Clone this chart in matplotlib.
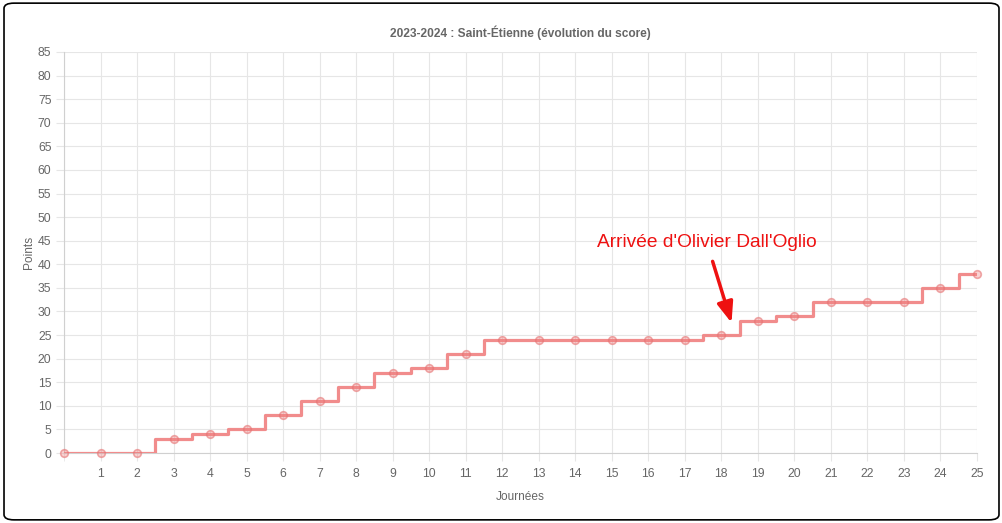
import matplotlib
matplotlib.use("Agg")
import matplotlib.pyplot as plt
from matplotlib.patches import FancyBboxPatch
import matplotlib.patheffects as pe

journees = list(range(0, 26))
points = [0, 0, 0, 3, 4, 5, 8, 11, 14, 17, 18, 21, 24, 24, 24, 24, 24, 24, 25, 28, 29, 32, 32, 32, 35, 38]
x_ticks = list(range(1, 26))
y_ticks = list(range(0, 90, 5))
title = "2023-2024 : Saint-Étienne (évolution du score)"
annot_text = "Arrivée d'Olivier Dall'Oglio"

plt.rcParams['font.family'] = ['Liberation Sans', 'DejaVu Sans']

fig = plt.figure(figsize=(10.03, 5.23), dpi=100)
ax = fig.add_axes([0.0638, 0.1338, 0.9102, 0.7668])

grid_c = '#e6e6e6'
ax.plot(journees, points, drawstyle='steps-mid', color='#f08080', lw=2.3, alpha=0.9, zorder=3)
ax.plot(journees, points, 'o', ms=5.5, mfc=(0.94, 0.5, 0.5, 0.35), mec=(0.9, 0.45, 0.45, 0.6), mew=1.2, zorder=4, clip_on=False)

ax.set_xlim(0, 25)
ax.set_ylim(0, 85)
ax.set_xticks(x_ticks)
ax.set_yticks(y_ticks)
ax.set_xticks([0], minor=True)
ax.grid(True, which='both', color=grid_c, lw=0.8)
ax.set_axisbelow(True)
for s in ax.spines.values():
    s.set_visible(False)
ax.spines['left'].set_visible(True)
ax.spines['left'].set_color('#d0d0d0')
ax.spines['bottom'].set_visible(True)
ax.spines['bottom'].set_color('#d0d0d0')
ax.tick_params(axis='both', which='both', length=6, color=grid_c, labelcolor='#666666', labelsize=8.8, pad=3)
ax.tick_params(axis='x', which='both', pad=5)

ax.set_xlabel('Journées', color='#666666', fontsize=8.6, labelpad=8)
ax.set_ylabel('Points', color='#666666', fontsize=8.6, labelpad=2)
ax.set_title(title, color='#666666', fontsize=8.6, fontweight='bold', pad=11)

shadow = [pe.withSimplePatchShadow(offset=(1.5, -1.5), shadow_rgbFace='#d07070', alpha=0.35), pe.Normal()]
ax.annotate(annot_text, xy=(18.28, 27.6), xytext=(17.6, 44.7), textcoords='data',
            ha='center', va='center', fontsize=13.8, color='#ee1111',
            arrowprops=dict(arrowstyle='-|>,head_length=0.9,head_width=0.35', color='#ee1111', lw=2.5,
                            shrinkA=6, shrinkB=0),
            zorder=6)

border = FancyBboxPatch((0.004, 0.006), 0.992, 0.988, boxstyle='round,pad=0,rounding_size=0.01',
                        transform=fig.transFigure, fill=False, ec='black', lw=1.2)
fig.patches.append(border)

fig.savefig('out.png', dpi=100)
